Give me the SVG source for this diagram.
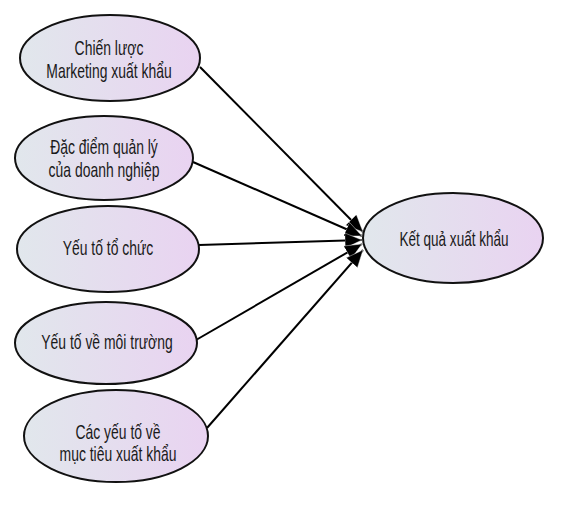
<svg xmlns="http://www.w3.org/2000/svg" width="561" height="505" viewBox="0 0 561 505">
  <defs>
    <linearGradient id="fill" x1="0" y1="0" x2="1" y2="0">
      <stop offset="0" stop-color="#e1e7ec"/>
      <stop offset="1" stop-color="#e9d3f1"/>
    </linearGradient>
    <marker id="arrow" markerUnits="userSpaceOnUse" markerWidth="20" markerHeight="18" refX="17" refY="8" orient="auto" viewBox="0 0 20 18">
      <path d="M0,0.5 L17,8 L0,15.5 Z" fill="#000" stroke="#fff" stroke-width="0.4"/>
    </marker>
    <style>
      .node ellipse { fill: url(#fill); stroke: #111; stroke-width: 2; }
      .node text { font-family: "Liberation Sans", Arial, sans-serif; font-size: 20.5px; fill: #1a1a1a; text-anchor: middle; }
      .edges line { stroke: #000; stroke-width: 2; marker-end: url(#arrow); }
    </style>
  </defs>
  <rect width="561" height="505" fill="#fff"/>

  <g class="edges" id="connectors">
    <line x1="200" y1="67" x2="363" y2="232"/>
    <line x1="193" y1="162" x2="362" y2="236"/>
    <line x1="199" y1="245" x2="362" y2="240"/>
    <line x1="196" y1="340" x2="362" y2="244"/>
    <line x1="207" y1="428" x2="363" y2="250"/>
  </g>

  <g class="node" id="n1">
    <ellipse cx="110" cy="58" rx="90" ry="43"/>
    <text transform="translate(109,55) scale(0.68,1)">Chiến lược</text>
    <text transform="translate(109,78) scale(0.68,1)">Marketing xuất khẩu</text>
  </g>
  <g class="node" id="n2">
    <ellipse cx="104" cy="158" rx="89" ry="42"/>
    <text transform="translate(104,154) scale(0.68,1)">Đặc điểm quản lý</text>
    <text transform="translate(104,177) scale(0.68,1)">của doanh nghiệp</text>
  </g>
  <g class="node" id="n3">
    <ellipse cx="108" cy="249" rx="91" ry="43"/>
    <text transform="translate(108,255) scale(0.68,1)">Yếu tố tổ chức</text>
  </g>
  <g class="node" id="n4">
    <ellipse cx="106" cy="343" rx="91" ry="41"/>
    <text transform="translate(107,349) scale(0.68,1)">Yếu tố về môi trường</text>
  </g>
  <g class="node" id="n5">
    <ellipse cx="116" cy="436" rx="92" ry="46"/>
    <text transform="translate(118,439) scale(0.68,1)">Các yếu tố về</text>
    <text transform="translate(118,461) scale(0.68,1)">mục tiêu xuất khẩu</text>
  </g>
  <g class="node" id="n6">
    <ellipse cx="453" cy="238" rx="90" ry="45"/>
    <text transform="translate(454,246) scale(0.66,1)">Kết quả xuất khẩu</text>
  </g>
</svg>
